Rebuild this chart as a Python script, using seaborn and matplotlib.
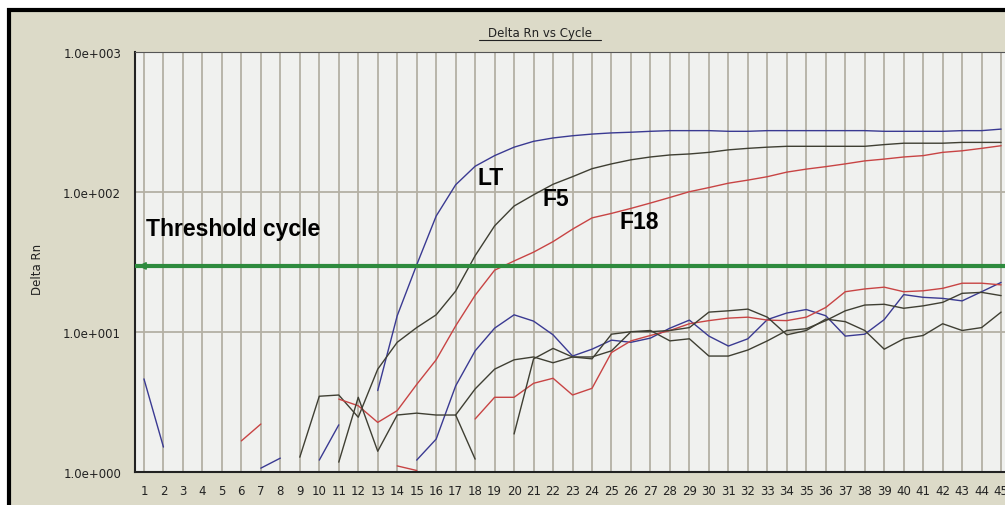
import numpy as np
import pandas as pd
import matplotlib
matplotlib.use('Agg')
import matplotlib.pyplot as plt
import seaborn as sns
from matplotlib.patches import Rectangle
from matplotlib.lines import Line2D
from matplotlib.ticker import NullLocator

nan = np.nan
cycles = list(range(1, 46))

# values, one per cycle (nan = not drawn)
lt = [nan, nan, nan, nan, nan, nan, nan, nan, nan, nan, nan, nan, 3.8, 13, 30,
      67, 112, 152, 181, 208, 229, 242, 251, 258, 263, 266, 270, 273, 273, 273,
      270, 270, 273, 273, 273, 273, 273, 273, 270, 270, 270, 270, 273, 273, 280]
f5 = [nan, nan, nan, nan, nan, nan, nan, nan, 1.27, 3.46, 3.53, 2.45, 5.4, 8.4, 10.7,
      13.2, 19.5, 34.9, 57, 79, 95, 113, 128, 146, 158, 169, 177, 183, 186, 191,
      199, 204, 208, 211, 211, 211, 211, 211, 217, 222, 222, 222, 225, 225, 225]
f18 = [nan, nan, nan, nan, nan, 1.66, 2.19, nan, nan, nan, 3.3, 2.96, 2.25, 2.73, 4.2,
       6.3, 11.0, 18.2, 27.5, 32, 37, 44, 54, 65, 70, 76, 83, 91, 100, 107,
       115, 121, 128, 138, 145, 151, 158, 166, 171, 177, 181, 191, 196, 204, 213]
blue_noise = [4.6, 1.5, nan, nan, nan, nan, 1.06, 1.25, nan, 1.21, 2.16, nan, nan, nan, 1.21,
              1.71, 4.1, 7.3, 10.6, 13.2, 11.9, 9.5, 6.7, 7.5, 8.7, 8.4, 9.0, 10.6, 12.1, 9.3,
              7.9, 8.9, 12.2, 13.6, 14.4, 13.0, 9.3, 9.6, 12.2, 18.4, 17.6, 17.3, 16.6, 19.3, 22.5]
red_noise = [nan, nan, nan, nan, nan, nan, nan, nan, nan, nan, nan, nan, nan, 1.10, 1.02,
             nan, nan, 2.38, 3.4, 3.4, 4.28, 4.65, 3.53, 3.94, 7.1, 8.6, 9.4, 10.2, 11.4, 12.0,
             12.5, 12.7, 12.1, 12.0, 12.7, 14.9, 19.3, 20.2, 20.8, 19.3, 19.6, 20.4, 22.2, 22.2, 21.6]
dark_1 = [nan, nan, nan, nan, nan, nan, nan, nan, nan, nan, nan, nan, nan, nan, nan,
          nan, 2.54, 3.9, 5.4, 6.3, 6.6, 6.0, 6.6, 6.4, 9.6, 10.0, 10.0, 10.2, 10.7, 13.8,
          14.1, 14.5, 12.7, 9.5, 10.2, 12.3, 11.8, 10.2, 7.5, 8.9, 9.4, 11.4, 10.2, 10.7, 13.8]
dark_2 = [nan, nan, nan, nan, nan, nan, nan, nan, nan, nan, 1.17, 3.4, 1.4, 2.54, 2.62,
          2.54, 2.54, 1.23, nan, 1.86, 6.4, 7.6, 6.6, 6.6, 7.3, 10.0, 10.2, 8.6, 8.9, 6.7,
          6.7, 7.4, 8.6, 10.2, 10.5, 12.0, 14.1, 15.5, 15.7, 14.7, 15.3, 16.2, 18.8, 19.1, 18.1]
threshold = 29.5

series = {'LT': lt, 'F5': f5, 'F18': f18, 'blue_noise': blue_noise,
          'red_noise': red_noise, 'dark_1': dark_1, 'dark_2': dark_2}
BLUE, DARK, RED = '#3a3a92', '#3f3f33', '#c84444'
palette = {'LT': BLUE, 'F5': DARK, 'F18': RED, 'blue_noise': BLUE,
           'red_noise': RED, 'dark_1': DARK, 'dark_2': DARK}

# long table, one "segment" per unbroken run so gaps stay gaps
rows = []
for name, vals in series.items():
    seg, prev = 0, False
    for c, v in zip(cycles, vals):
        if np.isnan(v):
            prev = False
            continue
        if not prev:
            seg += 1
        rows.append((name, f'{name}-{seg}', c, v))
        prev = True
df = pd.DataFrame(rows, columns=['sample', 'segment', 'cycle', 'delta_rn'])

sns.set_style('white')
plt.rcParams['font.family'] = ['DejaVu Sans']

W, H = 1005, 506
fig = plt.figure(figsize=(W / 100, H / 100), dpi=100)
fig.patch.set_facecolor('white')
# beige window panel with dark frame
fig.add_artist(Rectangle((10 / W, 0), 1, (H - 10) / H, transform=fig.transFigure,
                         facecolor='#dcdac8', edgecolor='none', zorder=-5))
fig.add_artist(Line2D([8.5 / W, 8.5 / W], [0, (H - 9) / H], color='black', lw=3,
                      transform=fig.transFigure, solid_capstyle='butt'))
fig.add_artist(Line2D([7 / W, 1], [(H - 10.5) / H, (H - 10.5) / H], color='black', lw=3,
                      transform=fig.transFigure, solid_capstyle='butt'))

ax = fig.add_axes([135 / W, (H - 472.7) / H, (W - 135) / W, (472.7 - 52.7) / H])
ax.set_facecolor('#f0f1ef')
ax.set_yscale('log')

sns.lineplot(data=df, x='cycle', y='delta_rn', hue='sample', units='segment',
             estimator=None, sort=False, palette=palette, linewidth=1.0,
             legend=False, ax=ax)

ax.set_xlim(0.54, 45.2)
ax.set_ylim(1, 1000)
ax.set_xticks(cycles)
ax.set_xticklabels([str(c) for c in cycles])
ax.set_yticks([1, 10, 100, 1000])
ax.set_yticklabels(['1.0e+000', '1.0e+001', '1.0e+002', '1.0e+003'])
ax.yaxis.set_minor_locator(NullLocator())
ax.tick_params(axis='both', length=0, labelsize=8.5, colors='#222222')
ax.tick_params(axis='x', pad=9)
ax.tick_params(axis='y', pad=10)
ax.grid(True, which='major', color='#b4b0a4', lw=1.3)
ax.set_axisbelow(True)
ax.spines['right'].set_visible(False)
for s in ['left', 'bottom']:
    ax.spines[s].set_color('#222222')
    ax.spines[s].set_linewidth(1.5)
ax.spines['top'].set_color('#555555')
ax.spines['top'].set_linewidth(0.8)

ax.set_xlabel('')
ax.set_ylabel('Delta Rn', fontsize=8.5, color='#222222')
ax.yaxis.set_label_coords(-0.105, 0.485)

# threshold line with arrow head at the left
ax.axhline(threshold, color='#2e8b3e', lw=3, zorder=6)
ax.annotate('', xy=(0.56, threshold), xytext=(1.4, threshold),
            arrowprops=dict(arrowstyle='->', color='#2e8b3e', lw=1.5), zorder=7)

lab = dict(fontsize=16.5, fontweight='bold', color='black', ha='left', va='center',
           family='Liberation Sans')
ax.text(18.1, 127, 'LT', **lab)
ax.text(21.45, 89, 'F5', **lab)
ax.text(25.4, 61, 'F18', **lab)
ax.text(1.1, 55, 'Threshold cycle', **lab)

fig.text(540 / W, 1 - 33 / H, 'Delta Rn vs Cycle', ha='center', va='center',
         fontsize=8.5, color='#222222')
fig.add_artist(Line2D([479 / W, 601 / W], [1 - 41 / H, 1 - 41 / H], color='#222222',
                      lw=0.8, transform=fig.transFigure))

fig.savefig('out.png', dpi=100)
